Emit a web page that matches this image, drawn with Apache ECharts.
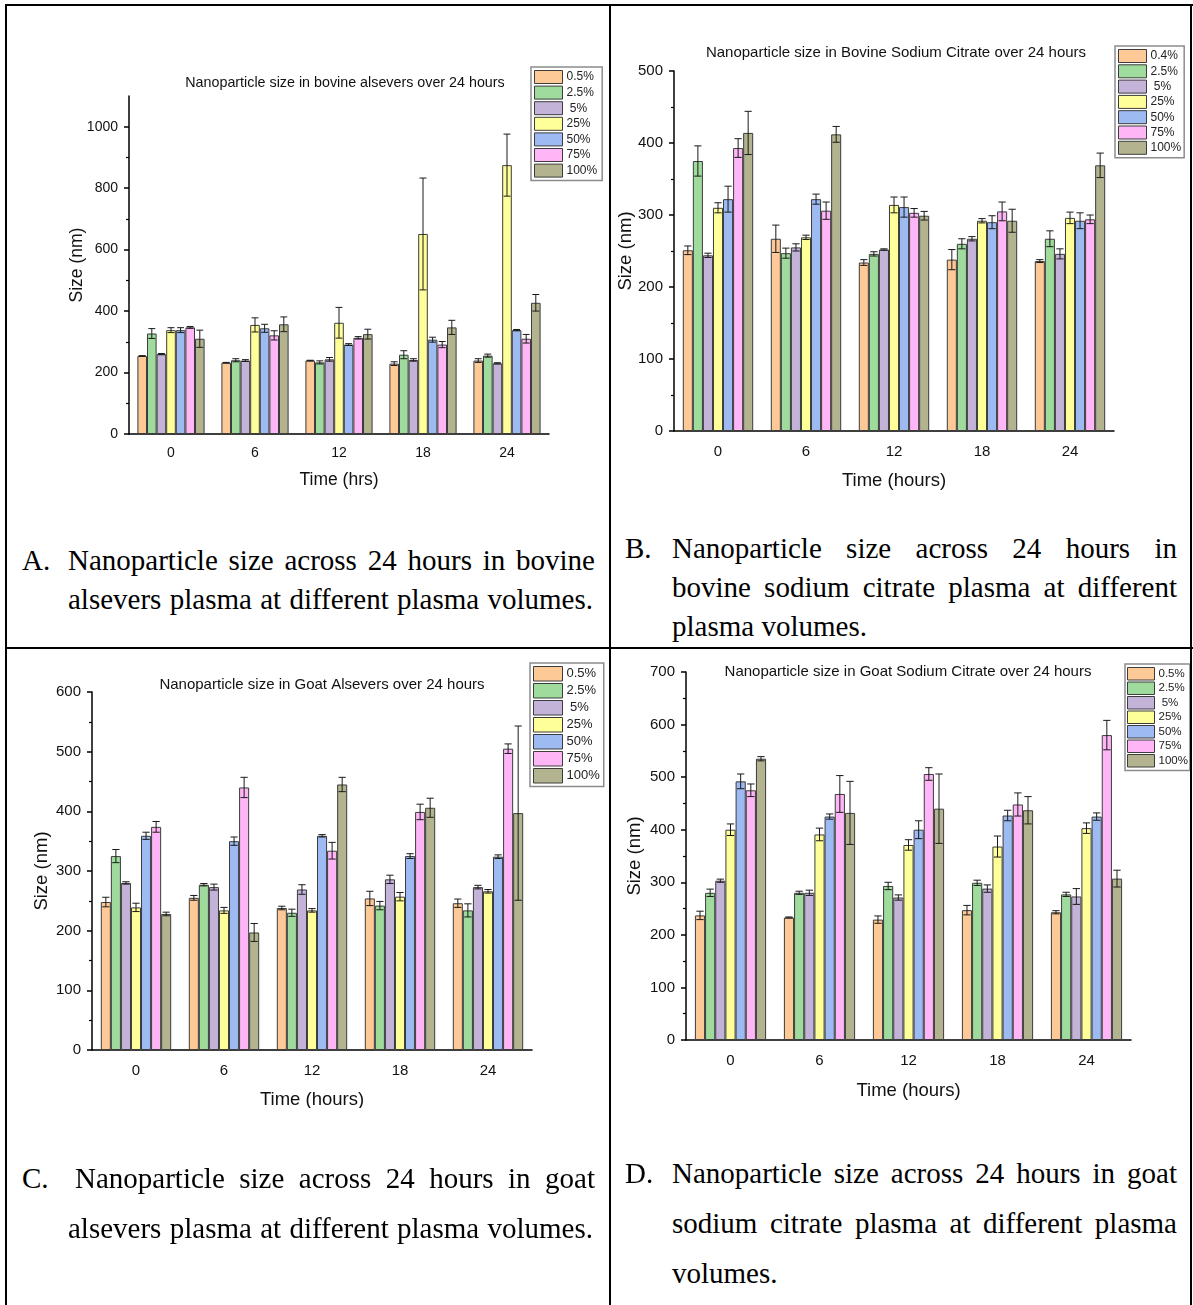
<!DOCTYPE html>
<html>
<head>
<meta charset="UTF-8">
<title>Nanoparticle size over 24 hours</title>
<script src="https://cdn.jsdelivr.net/npm/echarts@6/dist/echarts.min.js"></script>
<style>
  body { margin:0; background:#fff; }
  #page { position:relative; width:1193px; height:1305px; overflow:hidden; background:#fff; }
  .chart { position:absolute; }
  .rule { position:absolute; background:#000; }
  .cap { position:absolute; font-family:"Liberation Serif","Times New Roman",serif; font-size:29px; line-height:39px; color:#000; white-space:nowrap; }
  .cap.full { text-align:justify; text-align-last:justify; white-space:normal; }
</style>
</head>
<body>
<div id="page">
  <div class="chart" id="chartA" style="left:6px;top:5px;width:604px;height:490px"></div>
  <div class="chart" id="chartB" style="left:610px;top:5px;width:581px;height:490px"></div>
  <div class="chart" id="chartC" style="left:6px;top:648px;width:604px;height:460px"></div>
  <div class="chart" id="chartD" style="left:610px;top:648px;width:581px;height:460px"></div>

  <!-- table borders -->
  <div class="rule" style="left:5px;top:4px;width:1188px;height:2px"></div>
  <div class="rule" style="left:5px;top:4px;width:2px;height:1301px"></div>
  <div class="rule" style="left:609px;top:4px;width:2px;height:1301px"></div>
  <div class="rule" style="left:1190px;top:4px;width:2px;height:1301px"></div>
  <div class="rule" style="left:5px;top:647px;width:1188px;height:2px"></div>

  <!-- captions -->
  <div class="cap" style="left:22px;top:541px">A.</div>
  <div class="cap full" style="left:68px;top:541px;width:527px">Nanoparticle size across 24 hours in bovine</div>
  <div class="cap full" style="left:68px;top:580px;width:525px">alsevers plasma at different plasma volumes.</div>

  <div class="cap" style="left:625px;top:529px">B.</div>
  <div class="cap full" style="left:672px;top:529px;width:505px">Nanoparticle size across 24 hours in</div>
  <div class="cap full" style="left:672px;top:568px;width:505px">bovine sodium citrate plasma at different</div>
  <div class="cap" style="left:672px;top:607px">plasma volumes.</div>

  <div class="cap" style="left:22px;top:1159px">C.</div>
  <div class="cap full" style="left:75px;top:1159px;width:520px">Nanoparticle size across 24 hours in goat</div>
  <div class="cap full" style="left:68px;top:1209px;width:525px">alsevers plasma at different plasma volumes.</div>

  <div class="cap" style="left:625px;top:1154px">D.</div>
  <div class="cap full" style="left:672px;top:1154px;width:505px">Nanoparticle size across 24 hours in goat</div>
  <div class="cap full" style="left:672px;top:1204px;width:505px">sodium citrate plasma at different plasma</div>
  <div class="cap" style="left:672px;top:1254px">volumes.</div>
</div>
<script type="text/javascript">
// time points (hours)
var hours = ['0', '6', '12', '18', '24'];
// plasma volumes
var volumes = ['0.5%', '2.5%', '5%', '25%', '50%', '75%', '100%'];
var volumesB = ['0.4%', '2.5%', '5%', '25%', '50%', '75%', '100%'];

// y tick labels
var ticksA = [0, 200, 400, 600, 800, 1000];
var ticksB = [0, 100, 200, 300, 400, 500];
var ticksC = [0, 100, 200, 300, 400, 500, 600];
var ticksD = [0, 100, 200, 300, 400, 500, 600, 700];

// A: bovine alsevers, one row per volume, one column per hour
var meanA = [
  [254, 232, 239, 229, 239],
  [327, 240, 233, 258, 255],
  [260, 239, 243, 241, 230],
  [338, 355, 362, 651, 875],
  [338, 344, 291, 307, 338],
  [347, 321, 313, 291, 310],
  [310, 357, 325, 347, 427]
];
var errA = [
  [1, 1, 1, 6, 6],
  [16, 5, 5, 13, 5],
  [2, 3, 6, 4, 2],
  [8, 23, 50, 182, 101],
  [8, 13, 3, 8, 2],
  [3, 15, 4, 10, 14],
  [28, 24, 16, 23, 27]
];

// B: bovine sodium citrate
var meanB = [
  [251, 267, 234, 238, 236],
  [375, 247, 246, 260, 267],
  [244, 255, 252, 267, 246],
  [310, 269, 314, 292, 296],
  [322, 322, 311, 290, 292],
  [393, 306, 303, 305, 294],
  [414, 412, 299, 292, 369]
];
var errB = [
  [6, 19, 4, 14, 2],
  [21, 7, 3, 7, 11],
  [3, 5, 1, 3, 7],
  [7, 3, 11, 3, 8],
  [18, 7, 14, 9, 11],
  [13, 12, 6, 13, 6],
  [30, 11, 6, 16, 17]
];

// C: goat alsevers
var meanC = [
  [248, 255, 238, 254, 246],
  [325, 277, 230, 242, 234],
  [280, 273, 269, 286, 273],
  [239, 234, 234, 257, 266],
  [359, 350, 359, 325, 324],
  [374, 440, 334, 399, 505],
  [228, 197, 445, 406, 397]
];
var errC = [
  [8, 4, 3, 12, 7],
  [11, 2, 6, 7, 11],
  [2, 5, 8, 7, 3],
  [7, 5, 3, 7, 3],
  [6, 7, 2, 4, 3],
  [9, 17, 14, 13, 8],
  [3, 15, 12, 16, 146]
];

// D: goat sodium citrate
var meanD = [
  [237, 233, 229, 247, 243],
  [280, 280, 293, 299, 277],
  [303, 280, 271, 288, 273],
  [400, 391, 371, 368, 403],
  [492, 425, 400, 427, 425],
  [475, 468, 506, 448, 580],
  [535, 432, 440, 437, 307]
];
var errD = [
  [8, 1, 7, 9, 3],
  [7, 3, 7, 5, 4],
  [3, 5, 5, 7, 15],
  [11, 12, 10, 20, 10],
  [14, 5, 17, 10, 7],
  [12, 35, 12, 22, 28],
  [4, 60, 66, 26, 16]
];

var colors = ['#FDC997', '#9EDB9C', '#C3B3D8', '#FFFF99', '#9DBAF2', '#FFB6F7', '#B3B48F'];
var font = '"Liberation Sans", Arial, sans-serif';
var catGap = 0.2;

// panel layout, in page pixels: cell = div box, grid = [x0, y0, x1, y1]
var panels = [
  {el: 'chartA', cell: [6, 5], grid: [129, 96, 549, 434], max: 1100, ticks: ticksA,
   title: 'Nanoparticle size in bovine alsevers over 24 hours', titleAt: [345, 83], titleSize: 14.3,
   tickSize: 14, nameSize: 17.5, xLabelGap: 12,
   xName: 'Time (hrs)', xGap: 37, yGap: 43,
   legendAt: [531, 67], legendW: 28, legendH: 13, legendGap: 1.6, legendFont: 12, legendPad: [3, 5, 3, 3],
   names: volumes, mean: meanA, err: errA},
  {el: 'chartB', cell: [610, 5], grid: [674, 71, 1114, 431], max: 500, ticks: ticksB,
   title: 'Nanoparticle size in Bovine Sodium Citrate over 24 hours', titleAt: [896, 53], titleSize: 15,
   tickSize: 15, nameSize: 18.5, xLabelGap: 13,
   xName: 'Time (hours)', xGap: 40, yGap: 39,
   legendAt: [1115, 46], legendW: 28, legendH: 13, legendGap: 1.3, legendFont: 12, legendPad: [3, 3, 3, 3],
   names: volumesB, mean: meanB, err: errB},
  {el: 'chartC', cell: [6, 648], grid: [92, 692, 532, 1050], max: 600, ticks: ticksC,
   title: 'Nanoparticle size in Goat Alsevers over 24 hours', titleAt: [322, 685], titleSize: 15,
   tickSize: 15, nameSize: 18.5, xLabelGap: 13,
   xName: 'Time (hours)', xGap: 40, yGap: 41,
   legendAt: [530, 663], legendW: 29, legendH: 14.5, legendGap: 1.5, legendFont: 13, legendPad: [3, 4, 3, 3],
   names: volumes, mean: meanC, err: errC},
  {el: 'chartD', cell: [610, 648], grid: [686, 672, 1131, 1040], max: 700, ticks: ticksD,
   title: 'Nanoparticle size in Goat Sodium Citrate over 24 hours', titleAt: [908, 672], titleSize: 15,
   tickSize: 15, nameSize: 18.5, xLabelGap: 13,
   xName: 'Time (hours)', xGap: 41, yGap: 42,
   legendAt: [1125, 664], legendW: 27, legendH: 12.5, legendGap: 1, legendFont: 11.5, legendPad: [3, 2, 3, 2],
   names: volumes, mean: meanD, err: errD}
];

// error bar drawn over bar number s of category cat
function renderErr(params, api) {
  var cat = api.value(0), s = api.value(1), v = api.value(2), e = api.value(3);
  var band = api.size([1, 0])[0];
  var groupW = band * (1 - catGap);
  var bw = groupW / 7;
  var cx = api.coord([cat, 0])[0] - groupW / 2 + bw * (s + 0.5);
  var yTop = api.coord([cat, v + e])[1];
  var yBot = api.coord([cat, v - e])[1];
  var cap = bw * 0.36;
  var st = {stroke: '#1a1a1a', lineWidth: 1};
  return {
    type: 'group',
    children: [
      {type: 'line', shape: {x1: cx, y1: yTop, x2: cx, y2: yBot}, style: st},
      {type: 'line', shape: {x1: cx - cap, y1: yTop, x2: cx + cap, y2: yTop}, style: st},
      {type: 'line', shape: {x1: cx - cap, y1: yBot, x2: cx + cap, y2: yBot}, style: st}
    ]
  };
}

function buildOption(p) {
  var ox = p.cell[0], oy = p.cell[1];
  var g = p.grid;
  var minors = [];
  for (var i = 0; i < p.ticks.length - 1; i++) {
    minors.push((p.ticks[i] + p.ticks[i + 1]) / 2);
  }
  var series = p.names.map(function (name, i) {
    return {
      name: name, type: 'bar', data: p.mean[i],
      barGap: '0%', barCategoryGap: (catGap * 100) + '%',
      itemStyle: {color: colors[i], borderColor: '#3c3c3c', borderWidth: 1},
      silent: true
    };
  });
  var errData = [];
  p.mean.forEach(function (row, i) {
    row.forEach(function (v, j) { errData.push([j, i, v, p.err[i][j]]); });
  });
  series.push({type: 'custom', renderItem: renderErr, data: errData,
    encode: {x: 0, y: 2}, z: 5, silent: true});

  return {
    animation: false,
    textStyle: {fontFamily: font},
    grid: {left: g[0] - ox, top: g[1] - oy, width: g[2] - g[0], height: g[3] - g[1],
      outerBoundsMode: 'none', containLabel: false},
    graphic: [{
      type: 'text', x: p.titleAt[0] - ox, y: p.titleAt[1] - oy,
      style: {text: p.title, fontSize: p.titleSize, fontFamily: font, fill: '#111',
        align: 'center', verticalAlign: 'middle', textAlign: 'center', textVerticalAlign: 'middle'}
    }],
    legend: {
      orient: 'vertical', left: p.legendAt[0] - ox, top: p.legendAt[1] - oy,
      data: p.names, selectedMode: false, icon: 'rect',
      itemWidth: p.legendW, itemHeight: p.legendH, itemGap: p.legendGap,
      padding: p.legendPad, borderColor: '#8c8c8c', borderWidth: 1.5, backgroundColor: '#fff',
      itemStyle: {borderColor: '#3c3c3c', borderWidth: 1},
      textStyle: {fontSize: p.legendFont, color: '#222', fontFamily: font, padding: [0, 0, 0, -1]},
      formatter: function (n) { return n === '5%' ? ' 5%' : n; }
    },
    xAxis: {
      type: 'category', data: hours,
      axisLine: {lineStyle: {color: '#000', width: 1.5}},
      axisTick: {length: 5, lineStyle: {color: '#000', width: 1.5}},
      axisLabel: {fontSize: p.tickSize, color: '#111', margin: p.xLabelGap},
      name: p.xName, nameLocation: 'middle', nameGap: p.xGap, nameMoveOverlap: false,
      nameTextStyle: {fontSize: p.nameSize, color: '#111'}
    },
    yAxis: [{
      type: 'value', min: 0, max: p.max,
      axisLine: {show: true, lineStyle: {color: '#000', width: 1.5}},
      axisTick: {show: true, length: 5, customValues: p.ticks, lineStyle: {color: '#000', width: 1.5}},
      axisLabel: {customValues: p.ticks, fontSize: p.tickSize, color: '#111', margin: 11,
        formatter: function (v) { return String(v); }},
      splitLine: {show: false},
      name: 'Size (nm)', nameLocation: 'middle', nameGap: p.yGap, nameMoveOverlap: false,
      nameTextStyle: {fontSize: p.nameSize, color: '#111'}
    }, {
      type: 'value', min: 0, max: p.max, position: 'left',
      axisLine: {show: false},
      axisTick: {show: true, length: 3, customValues: minors, lineStyle: {color: '#000', width: 1.2}},
      axisLabel: {show: false},
      splitLine: {show: false}
    }],
    series: series
  };
}

panels.forEach(function (p) {
  var chart = echarts.init(document.getElementById(p.el));
  chart.setOption(buildOption(p));
});
</script>
</body>
</html>
